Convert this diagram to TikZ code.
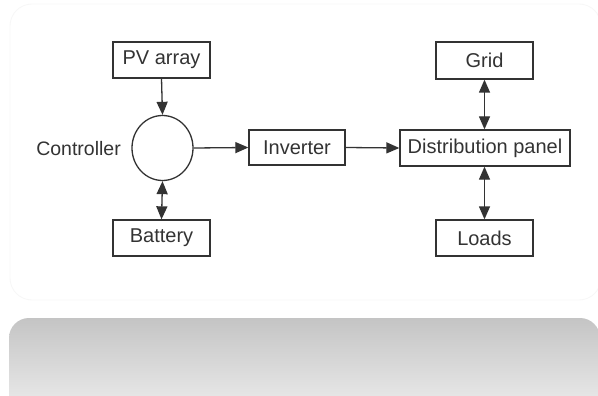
\documentclass[tikz,border=0pt]{standalone}
\usepackage{fontspec}
\setmainfont{Liberation Sans}
\usetikzlibrary{arrows.meta,shapes.geometric}
\definecolor{ink}{HTML}{333333}
\tikzset{tip/.tip={Triangle[length=13pt,width=11pt]}}
\begin{document}
\begin{tikzpicture}[x=1pt,y=-1pt,
  box/.style={draw=ink,line width=1.3pt,rectangle,inner sep=0pt,text=ink,font=\fontsize{20}{24}\selectfont},
  conn/.style={draw=ink,line width=1.3pt,-tip},
  bconn/.style={draw=ink,line width=1.3pt,tip-tip}]
\useasboundingbox (0,0) rectangle (598,396);
\fill[white] (0,0) rectangle (598,396);
\draw[black!3,line width=0.8pt,rounded corners=22pt] (10,4) rectangle (601,300);
\shade[top color=black!23,bottom color=black!6,rounded corners=20pt] (9,420) -- (9,318) -- (600,318) -- (600,420) -- cycle;
\node[box,minimum width=97pt,minimum height=36pt] (pv) at (161.5,60) {PV array};
\node[draw=ink,line width=1.3pt,ellipse,minimum width=61pt,minimum height=65pt,inner sep=0pt] (ctrl) at (162.5,148) {};
\node[anchor=east,text=ink,font=\fontsize{19.5}{24}\selectfont,inner sep=0pt] (lbl) at (121,149) {Controller};
\node[box,minimum width=97pt,minimum height=36pt] (bat) at (161.5,238) {Battery};
\node[box,minimum width=96pt,minimum height=35pt] (inv) at (297,147.5) {Inverter};
\node[box,minimum width=170pt,minimum height=36pt] (dist) at (485,148) {Distribution panel};
\node[box,minimum width=97pt,minimum height=37pt] (grid) at (484.5,60.5) {Grid};
\node[box,minimum width=97pt,minimum height=36pt] (loads) at (484.5,238) {Loads};
\draw[conn] (pv.south) -- (ctrl.north);
\draw[bconn] (ctrl.south) -- (bat.north);
\draw[conn] (ctrl.east) -- (inv.west);
\draw[conn] (inv.east) -- (dist.west);
\draw[bconn] (grid.south) -- (grid.south |- dist.north);
\draw[bconn] (loads.north |- dist.south) -- (loads.north);
\end{tikzpicture}
\end{document}
